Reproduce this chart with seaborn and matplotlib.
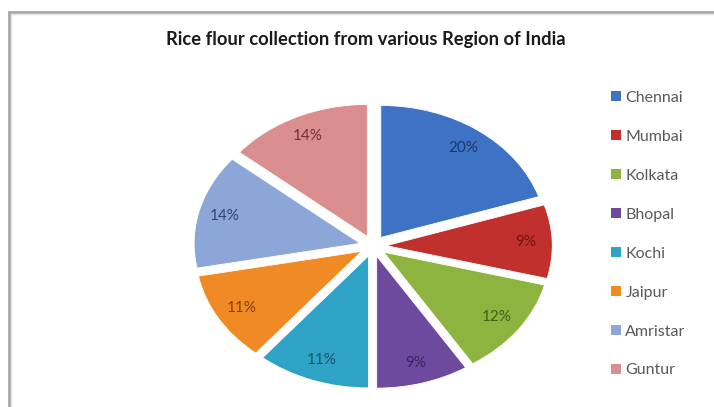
import matplotlib
matplotlib.use("Agg")
import matplotlib.pyplot as plt
from matplotlib.patches import Rectangle, Patch
import seaborn as sns

# ---- data ----
regions = ["Chennai", "Mumbai", "Kolkata", "Bhopal", "Kochi", "Jaipur", "Amristar", "Guntur"]
shares = [20, 9, 12, 9, 11, 11, 14, 14]
title = "Rice flour collection from various Region of India"

slice_colors = ["#3D72C4", "#C0312E", "#8DB43E", "#6E4A9E", "#2FA3C6", "#F08A24", "#8CA6D8", "#DB8E8E"]
text_colors = ["#1B3A6B", "#6E1614", "#43601A", "#3A2460", "#17566A", "#8A3E06", "#2E4878", "#7A2E2E"]

sns.set_theme(style="white")
plt.rcParams["font.family"] = ["Lato", "DejaVu Sans"]

W, H = 714, 407
fig = plt.figure(figsize=(W / 100, H / 100), dpi=100)

# outer chart frame
fig.patches.append(Rectangle((9 / W, -0.05), 1.0, 1 - 12 / H + 0.05, transform=fig.transFigure,
                             fill=False, edgecolor="#A8A8A8", linewidth=2.0))
fig.patches.append(Rectangle((11 / W, -0.05), 1.0, 1 - 14 / H + 0.05, transform=fig.transFigure,
                             fill=False, edgecolor="#E2E2E2", linewidth=1.0))

# axes placed so that the pie is a flattened ellipse centred at ~(373, 246) px
cx, cy = 373, 246
rx, ry = 166, 132
xl, yl = 1.3, 1.2
ax = fig.add_axes([(cx - xl * rx) / W, (H - cy - yl * ry) / H, 2 * xl * rx / W, 2 * yl * ry / H])

wedges, texts, autotexts = ax.pie(
    shares,
    colors=slice_colors,
    explode=[0.08] * len(shares),
    startangle=90,
    counterclock=False,
    autopct="%1.0f%%",
    pctdistance=0.84,
    wedgeprops=dict(edgecolor="white", linewidth=0.6),
    textprops=dict(fontsize=11),
)
for t, c in zip(autotexts, text_colors):
    t.set_color(c)
ax.set_aspect("auto")
ax.set_xlim(-xl, xl)
ax.set_ylim(-yl, yl)
ax.axis("off")

fig.text(366 / W, 1 - 40 / H, title, ha="center", va="center",
         fontsize=13.2, fontweight="bold", color="#1A1A1A")

handles = [Patch(facecolor=c, edgecolor="none") for c in slice_colors]
leg = fig.legend(handles, regions, loc="upper left", bbox_to_anchor=(611 / W, 1 - 91 / H),
                 frameon=False, fontsize=11.5, handlelength=0.6, handleheight=0.6,
                 handletextpad=0.3, labelspacing=1.56, borderaxespad=0, borderpad=0)
for t in leg.get_texts():
    t.set_color("#595959")

fig.savefig("out.png", dpi=100)
